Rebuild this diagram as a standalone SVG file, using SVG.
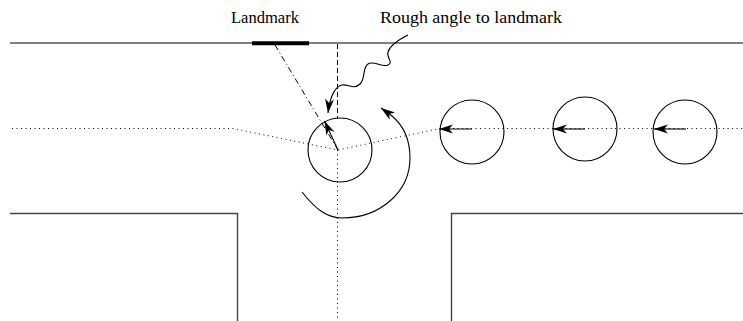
<svg xmlns="http://www.w3.org/2000/svg" width="743" height="321" viewBox="0 0 743 321">
<style>
.ln{fill:none;stroke:#000;stroke-width:1}
.wall{fill:none;stroke:#444;stroke-width:1.4}
.dot{fill:none;stroke:#000;stroke-width:1;stroke-dasharray:1 3.5}
.dash{fill:none;stroke:#000;stroke-width:1;stroke-dasharray:5 3}
.dashdot{fill:none;stroke:#000;stroke-width:1;stroke-dasharray:6 3 1 3}
.rob{fill:none;stroke:#000;stroke-width:1.1}
.arr{fill:none;stroke:#000;stroke-width:1.1;marker-end:url(#ah)}
.txt{font-family:"Liberation Serif","Times New Roman",serif;font-size:17px;fill:#000}
</style>
<defs>
<marker id="ah" markerUnits="userSpaceOnUse" markerWidth="20" markerHeight="12" viewBox="-15 -6 16 12" refX="0" refY="0" orient="auto" overflow="visible">
<path d="M0,0 L-14,-4.5 L-10,0 L-14,4.5 Z" fill="#000"/>
</marker>
</defs>
<g id="environment">
<line class="ln" x1="10" y1="43" x2="743" y2="43"/>
<polyline class="wall" points="10,213.5 237.5,213.5 237.5,321"/>
<polyline class="wall" points="743,213.5 451.5,213.5 451.5,321"/>
</g>
<g id="landmark">
<line x1="252" y1="43.3" x2="309" y2="43.3" stroke="#000" stroke-width="4"/>
<text class="txt" x="231" y="23" textLength="68" lengthAdjust="spacingAndGlyphs">Landmark</text>
</g>
<g id="label-rough-angle">
<text class="txt" x="380" y="23" textLength="182" lengthAdjust="spacingAndGlyphs">Rough angle to landmark</text>
</g>
<g id="paths">
<polyline class="dot" points="12,128.5 233,128.5 338,150 440,128.5 743,128.5"/>
<line class="dot" x1="337.5" y1="150" x2="337.5" y2="321"/>
<line class="dash" x1="337.5" y1="44" x2="337.5" y2="118"/>
<line class="dashdot" x1="275" y1="45" x2="338" y2="150"/>
</g>
<g id="robot-center">
<circle class="rob" cx="340" cy="150" r="32"/>
</g>
<g id="robot-1">
<circle class="rob" cx="472" cy="132" r="32"/>
</g>
<g id="robot-2">
<circle class="rob" cx="585" cy="129" r="32"/>
</g>
<g id="robot-3">
<circle class="rob" cx="685" cy="132" r="32"/>
</g>
<g id="connectors">
<path class="arr" d="M338,150 L324.5,121"/>
<path class="arr" d="M408,35 C400,39 390,45 388,52 C386,58 394,62 388,65 C382,68 374,60 368,64 C362,68 366,78 360,84 C354,90 348,84 342,85 C336,86 330,95 328,113"/>
<path class="arr" d="M302,192 C316,210 328,218 342,218 C380,218 410,192 410,158 C410,140 404,126 392,116 L381,108"/>
<path class="arr" d="M472,129 L439,129"/>
<path class="arr" d="M585,129 L553,129"/>
<path class="arr" d="M686,129 L654,129"/>
</g>
</svg>
